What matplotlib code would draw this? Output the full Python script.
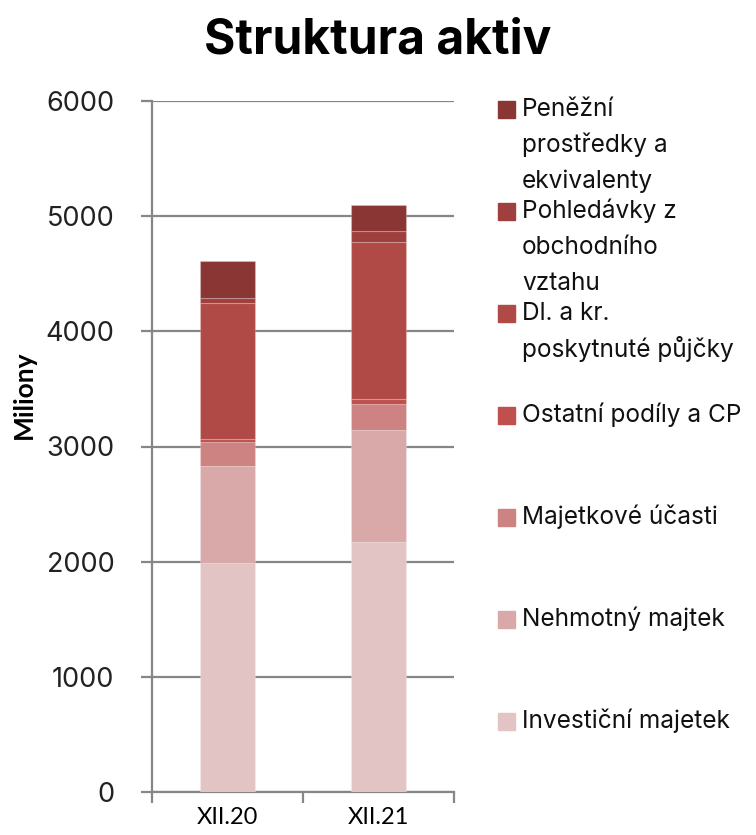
import matplotlib.pyplot as plt
import matplotlib.patches as mpatches
import numpy as np

# kategorie a hodnoty (miliony), odspodu nahoru
years = ['XII.20', 'XII.21']
labels = ['Investiční majetek', 'Nehmotný majtek', 'Majetkové účasti',
          'Ostatní podíly a CP', 'Dl. a kr.\nposkytnuté půjčky',
          'Pohledávky z\nobchodního\nvztahu', 'Peněžní\nprostředky a\nekvivalenty']
investicni = [1990, 2173]
nehmotny = [837, 969]
majetkove = [211, 229]
ostatni = [24, 40]
pujcky = [1180, 1361]
pohledavky = [46, 95]
penezni = [324, 228]
series = [investicni, nehmotny, majetkove, ostatni, pujcky, pohledavky, penezni]
colors = ['#E2C4C5', '#D9A9A9', '#CD8381', '#C0504D', '#B04A47', '#A0403E', '#8A3634']

W, H = 756, 835
fig = plt.figure(figsize=(W / 100, H / 100), dpi=100)
ax = fig.add_axes([152 / W, 1 - 792 / H, (454 - 152) / W, (792 - 101) / H])

x = np.arange(len(years))
bottom = np.zeros(len(years))
for vals, c in zip(series, colors):
    ax.bar(x, vals, 0.37, bottom=bottom, color=c, edgecolor=(1, 1, 1, 0.2), linewidth=0.8, zorder=3)
    bottom += np.array(vals)

grey = '#868686'
ax.set_xlim(-0.5, 1.5)
ax.set_ylim(0, 6000)
ax.set_yticks(np.arange(0, 6001, 1000))
ax.grid(axis='y', color=grey, linewidth=1.6, zorder=0)
for s in ['top', 'right']:
    ax.spines[s].set_visible(False)
for s in ['left', 'bottom']:
    ax.spines[s].set_color(grey)
    ax.spines[s].set_linewidth(1.6)
ax.tick_params(axis='y', length=8, width=1.6, color=grey, labelsize=19.5, pad=19)
for t in ax.get_yticklabels():
    t.set_family('Inter')
    t.set_color('#222222')

# x: tick čárky na hranicích kategorií, popisky uprostřed
ax.set_xticks([-0.5, 0.5, 1.5])
ax.set_xticklabels([])
ax.set_xticks(x, minor=True)
ax.set_xticklabels(years, minor=True, fontsize=17, family='Lato')
ax.tick_params(axis='x', which='major', length=8, width=1.6, color=grey)
ax.tick_params(axis='x', which='minor', length=0, pad=11)

fig.text(0.5, 1 - 40 / H, 'Struktura aktiv', ha='center', va='center',
         fontsize=34.5, fontweight='bold', family='Inter')
fig.text(24 / W, 1 - 395 / H, 'Miliony', rotation=90, ha='center', va='center',
         fontsize=19, fontweight='bold', family='Lato')

# legenda ručně (shora dolů)
for i, (lab, c) in enumerate(zip(labels[::-1], colors[::-1])):
    yc = 109 + i * 102
    fig.add_artist(mpatches.Rectangle((498 / W, 1 - (yc + 8.5) / H), 17 / W, 17 / H,
                                      transform=fig.transFigure, color=c))
    for j, line in enumerate(lab.split('\n')):
        fig.text(522 / W, 1 - (yc + j * 36) / H, line, ha='left', va='center',
                 fontsize=17.6, family='Inter', color='#111111')

plt.savefig('out.png', dpi=100)
